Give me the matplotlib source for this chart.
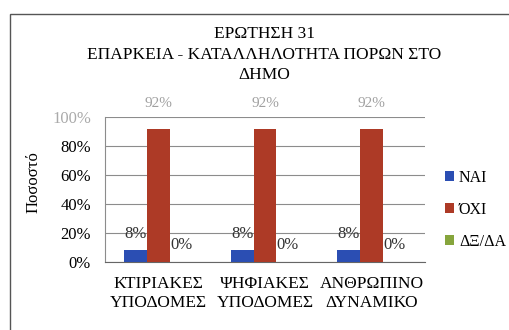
import matplotlib
matplotlib.use("Agg")
import matplotlib.pyplot as plt
import numpy as np
from matplotlib.patches import Rectangle

categories = ["ΚΤΙΡΙΑΚΕΣ\nΥΠΟΔΟΜΕΣ", "ΨΗΦΙΑΚΕΣ\nΥΠΟΔΟΜΕΣ", "ΑΝΘΡΩΠΙΝΟ\nΔΥΝΑΜΙΚΟ"]
series_names = ["ΝΑΙ", "ΌΧΙ", "ΔΞ/ΔΑ"]
nai = [8, 8, 8]
oxi = [92, 92, 92]
dk = [0, 0, 0]
yticks = [0, 20, 40, 60, 80, 100]
colors = ["#2b4eb3", "#ad3a26", "#86a53c"]

plt.rcParams['font.family'] = ['Liberation Serif', 'DejaVu Serif']

fig = plt.figure(figsize=(5.1, 3.3), dpi=100)
fig.patch.set_facecolor("white")
fig.patches.append(Rectangle((10/510, -0.01), 1.0, 1 - 14/330 + 0.01,
                             transform=fig.transFigure, fill=False,
                             edgecolor="#555555", linewidth=1.0))

ax = fig.add_axes([105/510, 68/330, 320/510, 145/330])
x = np.arange(len(categories))
w = 0.215
values = [nai, oxi, dk]
for i, (vals, c, name) in enumerate(zip(values, colors, series_names)):
    pos = x + (i - 1) * w
    ax.bar(pos, vals, width=w, color=c, label=name, zorder=3)
    for p, v in zip(pos, vals):
        if v > 90:
            ax.text(p, 104.5, f"{v}%", ha="center", va="bottom",
                    fontsize=11, color="#a0a0a0")
        else:
            ax.text(p, v + 6, f"{v}%", ha="center", va="bottom",
                    fontsize=12, color="#333333")

ax.set_ylim(0, 100)
ax.set_xlim(-0.5, 2.5)
ax.set_yticks(yticks)
ax.set_yticklabels([f"{t}%" for t in yticks], fontsize=12)
ax.get_yticklabels()[-1].set_color("#aaaaaa")
ax.set_xticks(x)
ax.set_xticklabels(categories, fontsize=12.5, linespacing=1.3)
ax.tick_params(length=0)
ax.tick_params(axis="y", pad=10)
ax.tick_params(axis="x", pad=10)
ax.grid(axis="y", color="#8c8c8c", linewidth=0.8, zorder=0)
for s in ["top", "right"]:
    ax.spines[s].set_visible(False)
ax.spines["left"].set_color("#8c8c8c")
ax.spines["bottom"].set_color("#666666")
ax.set_ylabel("Ποσοστό", fontsize=12)
ax.yaxis.set_label_coords(-63/320, 0.55)

fig.text(0.518, 1 - 26/330, "ΕΡΩΤΗΣΗ 31\nΕΠΑΡΚΕΙΑ - ΚΑΤΑΛΛΗΛΟΤΗΤΑ ΠΟΡΩΝ ΣΤΟ\nΔΗΜΟ",
         ha="center", va="top", fontsize=12.5, linespacing=1.38)

ax.legend(loc="center left", bbox_to_anchor=(326/320, 0.36), frameon=False,
          fontsize=11.5, handlelength=0.55, handleheight=0.55, handletextpad=0.3,
          labelspacing=1.0)

fig.savefig("out.png", dpi=100)
